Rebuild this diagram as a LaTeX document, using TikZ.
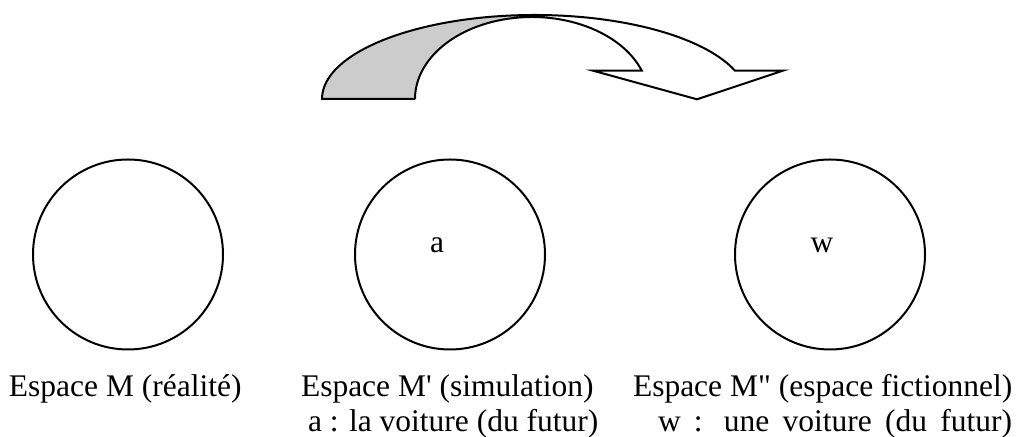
\documentclass[tikz,border=0pt]{standalone}
\usepackage{fontspec}
\newfontfamily\timesfont{Liberation Serif}
\begin{document}
\begin{tikzpicture}[x=0.5pt,y=0.5pt,line width=1pt,
  space/.style={draw,circle,minimum size=95pt,inner sep=0pt},
  lbl/.style={font=\timesfont\fontsize{15.75pt}{17.5pt}\selectfont,inner sep=0pt}]
\useasboundingbox (0,0) rectangle (1016,437);
% curved arrow, back of the band
\fill[black!20] (322,338)
 arc[start angle=180,end angle=90,x radius=212.7,y radius=84]
 --(532,420)
 arc[start angle=90,end angle=180,x radius=117,y radius=82]
 --cycle;
% curved arrow, outline
\draw[line join=miter] (415,338)
 --(322,338)
 arc[start angle=180,end angle=19.7,x radius=212.7,y radius=84]
 --(783,366.3)
 --(697,337.7)
 --(593,366.3)
 --(641.8,366.3)
 arc[start angle=20.2,end angle=180,x radius=117,y radius=82];
% the three spaces
\node[space] (m0) at (128,182.5) {};
\node[space] (m1) at (450,182.5) {};
\node[space] (m2) at (830,182.5) {};
\node[lbl,anchor=base] (a) at (437,184) {a};
\node[lbl,anchor=base] (w) at (822,184) {w};
% labels
\node[lbl,anchor=base west] (l0) at (8,40) {Espace M (réalité)};
\node[lbl,anchor=base west] (l1) at (300,40) {Espace M' (simulation)};
\node[lbl,anchor=base west] (l1b) at (307,5) {a : la voiture (du futur)};
\node[lbl,anchor=base west] (l2) at (632,40) {Espace M" (espace fictionnel)};
\node[lbl,anchor=base west] (l2b) at (657,5) {\makebox[177pt][s]{w : une voiture (du futur)}};
\end{tikzpicture}
\end{document}
